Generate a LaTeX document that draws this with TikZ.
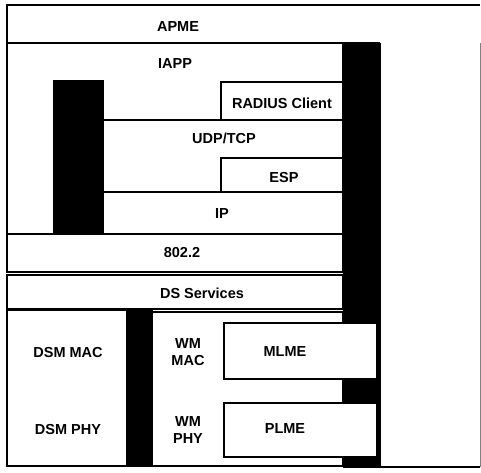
\documentclass[tikz,border=0pt]{standalone}
\usepackage{fontspec}
\setmainfont{Liberation Sans}
\usepackage{tikz}
\tikzset{
  layer/.style={draw, line width=2.2pt, fill=white},
  edge/.style={line width=2.2pt},
  bar/.style={fill=black},
  lbl/.style={font=\bfseries\fontsize{14.5}{17}\selectfont, inner sep=0pt, align=center}
}

\begin{document}
\begin{tikzpicture}[x=1pt, y=-1pt]
\useasboundingbox (0,0) rectangle (481,472);
\draw[edge] (480,5) -- (7,5) -- (7,43) -- (380,43);
\draw[edge] (380,467) -- (480,467);
\draw[line width=0.6pt, black!50] (480,43) -- (480,467);
\node[lbl] (apme) at (178,27) {APME};
\draw[layer] (7,43) rectangle (343,234);
\node[lbl] (iapp) at (175,64) {IAPP};
\draw[bar] (53,80) rectangle (103,234);
\draw[layer] (221,82) rectangle (343,120);
\node[lbl] (radius) at (282,103) {RADIUS Client};
\draw[layer] (103,120) rectangle (343,192);
\node[lbl] (udptcp) at (224,138) {UDP/TCP};
\draw[layer] (221,158) rectangle (343,192);
\node[lbl] (esp) at (284,178) {ESP};
\draw[layer] (103,192) rectangle (343,234);
\node[lbl] (ip) at (222,214) {IP};
\draw[layer] (7,234) rectangle (343,272);
\node[lbl] (llc) at (182,253) {802.2};
\draw[layer] (7,275) rectangle (343,309);
\node[lbl] (ds) at (202,293) {DS Services};
\draw[bar] (343,43) rectangle (380,467);
\begin{scope}[shift={(0,310)}]
  \draw[layer] (7,0) rectangle (127,156);
  \draw[bar] (127,0) rectangle (152,156);
  \draw[layer] (152,2) rectangle (343,156);
  \draw[layer] (224,13) rectangle (377,69);
  \draw[layer] (224,93) rectangle (377,147);
  \node[lbl] (dsmmac) at (68,42) {DSM MAC};
  \node[lbl] (dsmphy) at (68,119) {DSM PHY};
  \node[lbl] (wmmac) at (188,42) {WM\\MAC};
  \node[lbl] (wmphy) at (188,120) {WM\\PHY};
  \node[lbl] (mlme) at (285,42) {MLME};
  \node[lbl] (plme) at (285,119) {PLME};
\end{scope}
\end{tikzpicture}
\end{document}
